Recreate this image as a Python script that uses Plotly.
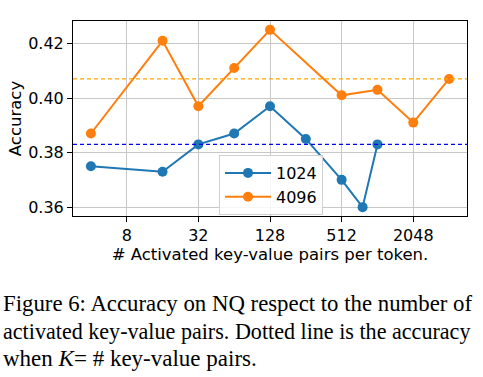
import plotly.graph_objects as go

x_1024 = [4, 16, 32, 64, 128, 256, 512, 768, 1024]
acc_1024 = [0.375, 0.373, 0.383, 0.387, 0.397, 0.385, 0.370, 0.360, 0.383]
x_4096 = [4, 16, 32, 64, 128, 512, 1024, 2048, 4096]
acc_4096 = [0.387, 0.421, 0.397, 0.411, 0.425, 0.401, 0.403, 0.391, 0.407]
full_1024 = 0.383
full_4096 = 0.407
x_ticks = [8, 32, 128, 512, 2048]
y_ticks = [0.36, 0.38, 0.40, 0.42]
caption_lines = [
    "Figure 6: Accuracy on NQ respect to the number of",
    "activated key-value pairs. Dotted line is the accuracy",
    "when <i>K</i>= # key-value pairs.",
]

W, H = 483, 377
L, R, T, B = 73, 16, 21, 161
ph = H - T - B
pw = W - L - R

fig = go.Figure()
fig.add_trace(go.Scatter(x=x_1024, y=acc_1024, mode="lines+markers", name="1024",
                         line=dict(color="#1f77b4", width=2),
                         marker=dict(color="#1f77b4", size=10)))
fig.add_trace(go.Scatter(x=x_4096, y=acc_4096, mode="lines+markers", name="4096",
                         line=dict(color="#ff7f0e", width=2),
                         marker=dict(color="#ff7f0e", size=10)))

fig.add_shape(type="line", xref="paper", x0=0, x1=1, yref="y", y0=full_1024, y1=full_1024,
              line=dict(color="#0000ff", width=1.2, dash="4px,3px"), layer="above")
fig.add_shape(type="line", xref="paper", x0=0, x1=1, yref="y", y0=full_4096, y1=full_4096,
              line=dict(color="#ffa500", width=1.2, dash="4px,3px"), layer="above")

fig.update_layout(
    width=W, height=H,
    margin=dict(l=L, r=R, t=T, b=B),
    paper_bgcolor="white", plot_bgcolor="white",
    font=dict(family="DejaVu Sans", size=16, color="black"),
    showlegend=True,
    legend=dict(x=(219 - L) / pw, y=(T + ph - 155) / ph, xanchor="left", yanchor="top",
                bgcolor="rgba(255,255,255,0.85)", bordercolor="#d0d0d0", borderwidth=1,
                font=dict(size=16), itemwidth=46, tracegroupgap=0),
)
fig.update_xaxes(type="log", range=[1.5 * 0.30103, 12.5 * 0.30103], automargin=False,
                 tickvals=x_ticks, ticktext=[str(v) for v in x_ticks],
                 showgrid=True, gridcolor="#c8c8c8", gridwidth=1,
                 showline=True, linecolor="black", linewidth=1, mirror=True,
                 ticks="outside", ticklen=5, tickcolor="black", zeroline=False,
                 title=dict(text="# Activated key-value pairs per token.", standoff=2,
                            font=dict(size=16.5)))
fig.update_yaxes(range=[0.35675, 0.42825], tickvals=y_ticks, automargin=False,
                 ticktext=[f"{v:.2f}" for v in y_ticks],
                 showgrid=True, gridcolor="#c8c8c8", gridwidth=1,
                 showline=True, linecolor="black", linewidth=1, mirror=True,
                 ticks="outside", ticklen=5, tickcolor="black", zeroline=False,
                 title=dict(text="Accuracy", standoff=2, font=dict(size=16.5)))

baselines = [311.7, 339.3, 366.7]
sizes = [22.8, 22.1, 23]
for line, bl, fs in zip(caption_lines, baselines, sizes):
    cy = bl - 0.34 * fs
    fig.add_annotation(
        xref="paper", yref="paper", x=(1 - L) / pw, y=(T + ph - cy) / ph,
        xanchor="left", yanchor="middle", align="left", showarrow=False,
        text=line, font=dict(family="Liberation Serif", size=fs, color="black"),
    )

fig.write_html("out.html", config={"displayModeBar": False},
               post_script="document.body.style.margin='0';document.body.style.padding='0';")
